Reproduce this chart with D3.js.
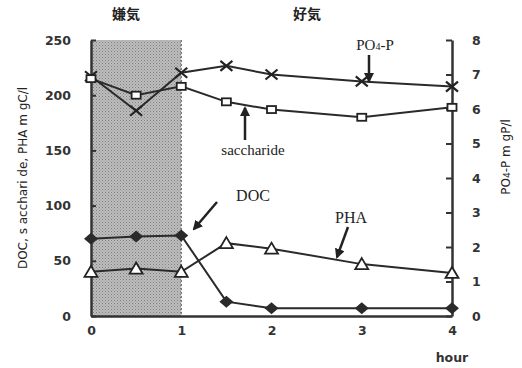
<!DOCTYPE html>
<meta charset="utf-8">
<style>
body { margin: 0; background: #fff; }
svg text { fill: #222; }
.tick text { font: bold 12.5px "DejaVu Sans", sans-serif; fill: #333; }
.axis path, .axis line { stroke: #333; }
.axis path { stroke-width: 2.5px; }
.axis line { stroke-width: 2px; }
.note { font: 15px "Liberation Serif", serif; }
</style>
<body>
<svg width="522" height="368"></svg>
<script src="https://cdn.jsdelivr.net/npm/d3@7"></script>
<script>

var hours = [0, 0.5, 1, 1.5, 2, 3, 4];
var po4 = [6.95, 5.95, 7.05, 7.25, 7.0, 6.8, 6.65];
var saccharide = [215, 200, 208, 194, 187, 180, 189];
var doc = [70, 72, 73, 13, 7, 7, 7];
var pha = [40, 43, 40, 66, 61, 47, 39];

var leftTicks = [0, 50, 100, 150, 200, 250];
var rightTicks = [0, 1, 2, 3, 4, 5, 6, 7, 8];
var hourTicks = [0, 1, 2, 3, 4];
var anaerobic = [0, 1];

var svg = d3.select("svg");
var x = d3.scaleLinear().domain([0, 4]).range([91, 452]);
var yL = d3.scaleLinear().domain([0, 250]).range([316, 40]);
var yR = d3.scaleLinear().domain([0, 8]).range([316, 40]);

// stippled shading for the anaerobic phase
var pat = svg.append("defs").append("pattern")
    .attr("id", "stip").attr("width", 3).attr("height", 3)
    .attr("patternUnits", "userSpaceOnUse");
pat.append("rect").attr("width", 3).attr("height", 3).attr("fill", "#bdbdbd");
pat.append("rect").attr("width", 1).attr("height", 1).attr("fill", "#808080");
pat.append("rect").attr("x", 1.5).attr("y", 1.5).attr("width", 1).attr("height", 1).attr("fill", "#909090");

svg.append("rect")
    .attr("x", x(anaerobic[0])).attr("y", yL(250))
    .attr("width", x(anaerobic[1]) - x(anaerobic[0]))
    .attr("height", yL(0) - yL(250))
    .attr("fill", "url(#stip)");
svg.append("line")
    .attr("x1", x(anaerobic[1])).attr("x2", x(anaerobic[1]))
    .attr("y1", yL(250)).attr("y2", yL(0))
    .attr("stroke", "#555").attr("stroke-dasharray", "2,2");

// axes
svg.append("g").attr("class", "axis").attr("transform", "translate(" + x(0) + ",0)")
    .call(d3.axisLeft(yL).tickValues(leftTicks).tickSizeInner(-5).tickSizeOuter(0).tickPadding(20));
svg.append("g").attr("class", "axis").attr("transform", "translate(" + x(4) + ",0)")
    .call(d3.axisRight(yR).tickValues(rightTicks).tickSizeInner(-6).tickSizeOuter(0).tickPadding(20));
svg.append("g").attr("class", "axis").attr("transform", "translate(0," + yL(0) + ")")
    .call(d3.axisBottom(x).tickValues(hourTicks).tickSize(0).tickPadding(10).tickFormat(d3.format("d")));
svg.selectAll(".axis .domain").attr("stroke", "#333");

var lineL = d3.line().x(function(d, i){ return x(hours[i]); }).y(function(d){ return yL(d); });
var lineR = d3.line().x(function(d, i){ return x(hours[i]); }).y(function(d){ return yR(d); });

function drawLine(vals, gen) {
  svg.append("path").datum(vals).attr("d", gen)
      .attr("fill", "none").attr("stroke", "#2a2a2a").attr("stroke-width", 2);
}
drawLine(po4, lineR);
drawLine(saccharide, lineL);
drawLine(doc, lineL);
drawLine(pha, lineL);

// markers
svg.selectAll(".po4").data(po4).enter().append("path")
    .attr("transform", function(d, i){ return "translate(" + x(hours[i]) + "," + yR(d) + ")"; })
    .attr("d", "M-6,-5L6,5M-6,5L6,-5").attr("stroke", "#222").attr("stroke-width", 2.2);
svg.selectAll(".sac").data(saccharide).enter().append("rect")
    .attr("x", function(d, i){ return x(hours[i]) - 4.5; }).attr("y", function(d){ return yL(d) - 3.5; })
    .attr("width", 9).attr("height", 7)
    .attr("fill", "#fff").attr("stroke", "#222").attr("stroke-width", 1.8);
svg.selectAll(".doc").data(doc).enter().append("path")
    .attr("transform", function(d, i){ return "translate(" + x(hours[i]) + "," + yL(d) + ")"; })
    .attr("d", "M0,-6L7,0L0,6L-7,0Z").attr("fill", "#2a2a2a");
svg.selectAll(".pha").data(pha).enter().append("path")
    .attr("transform", function(d, i){ return "translate(" + x(hours[i]) + "," + yL(d) + ")"; })
    .attr("d", "M0,-6L6.5,5L-6.5,5Z")
    .attr("fill", "#fff").attr("stroke", "#222").attr("stroke-width", 1.8);

// phase labels
svg.append("text").attr("x", 126).attr("y", 19).attr("text-anchor", "middle")
    .style("font", "bold 14px 'Noto Sans CJK JP'").text("嫌気");
svg.append("text").attr("x", 307).attr("y", 19).attr("text-anchor", "middle")
    .style("font", "bold 14px 'Noto Sans CJK JP'").text("好気");

// axis titles
svg.append("text").attr("transform", "translate(27,178) rotate(-90)").attr("text-anchor", "middle")
    .style("font", "12px 'DejaVu Sans', sans-serif").text("DOC, s acchari de, PHA m gC/l");
var rt = svg.append("text").attr("transform", "translate(510,157) rotate(-90)").attr("text-anchor", "middle")
    .style("font", "12px 'DejaVu Sans', sans-serif");
rt.append("tspan").text("PO");
rt.append("tspan").attr("font-size", "9px").text("4");
rt.append("tspan").text("-P m gP/l");
svg.append("text").attr("x", 452).attr("y", 362).attr("text-anchor", "middle")
    .style("font", "bold 12.5px 'DejaVu Sans', sans-serif").style("fill", "#333").text("hour");

// annotations with arrows
svg.append("defs").append("marker").attr("id", "ah")
    .attr("viewBox", "0 0 10 10").attr("refX", 8).attr("refY", 5)
    .attr("markerWidth", 4).attr("markerHeight", 4).attr("orient", "auto")
    .append("path").attr("d", "M0,0L10,5L0,10Z").attr("fill", "#222");

function arrow(x1, y1, x2, y2) {
  svg.append("line").attr("x1", x1).attr("y1", y1).attr("x2", x2).attr("y2", y2)
      .attr("stroke", "#222").attr("stroke-width", 2.5).attr("marker-end", "url(#ah)");
}
var po = svg.append("text").attr("class", "note").attr("x", 375).attr("y", 50).attr("text-anchor", "middle");
po.append("tspan").text("PO");
po.append("tspan").attr("font-size", "10px").text("4");
po.append("tspan").text("-P");
arrow(369, 55, 369, 81);
svg.append("text").attr("class", "note").attr("x", 253).attr("y", 155).attr("text-anchor", "middle").text("saccharide");
arrow(245, 140, 245, 108);
svg.append("text").attr("class", "note").attr("x", 253).attr("y", 201).attr("text-anchor", "middle")
    .style("font-size", "16px").text("DOC");
arrow(217, 202, 194, 229);
svg.append("text").attr("class", "note").attr("x", 351).attr("y", 223).attr("text-anchor", "middle")
    .style("font-size", "16px").text("PHA");
arrow(348, 227, 337, 257);

</script>
